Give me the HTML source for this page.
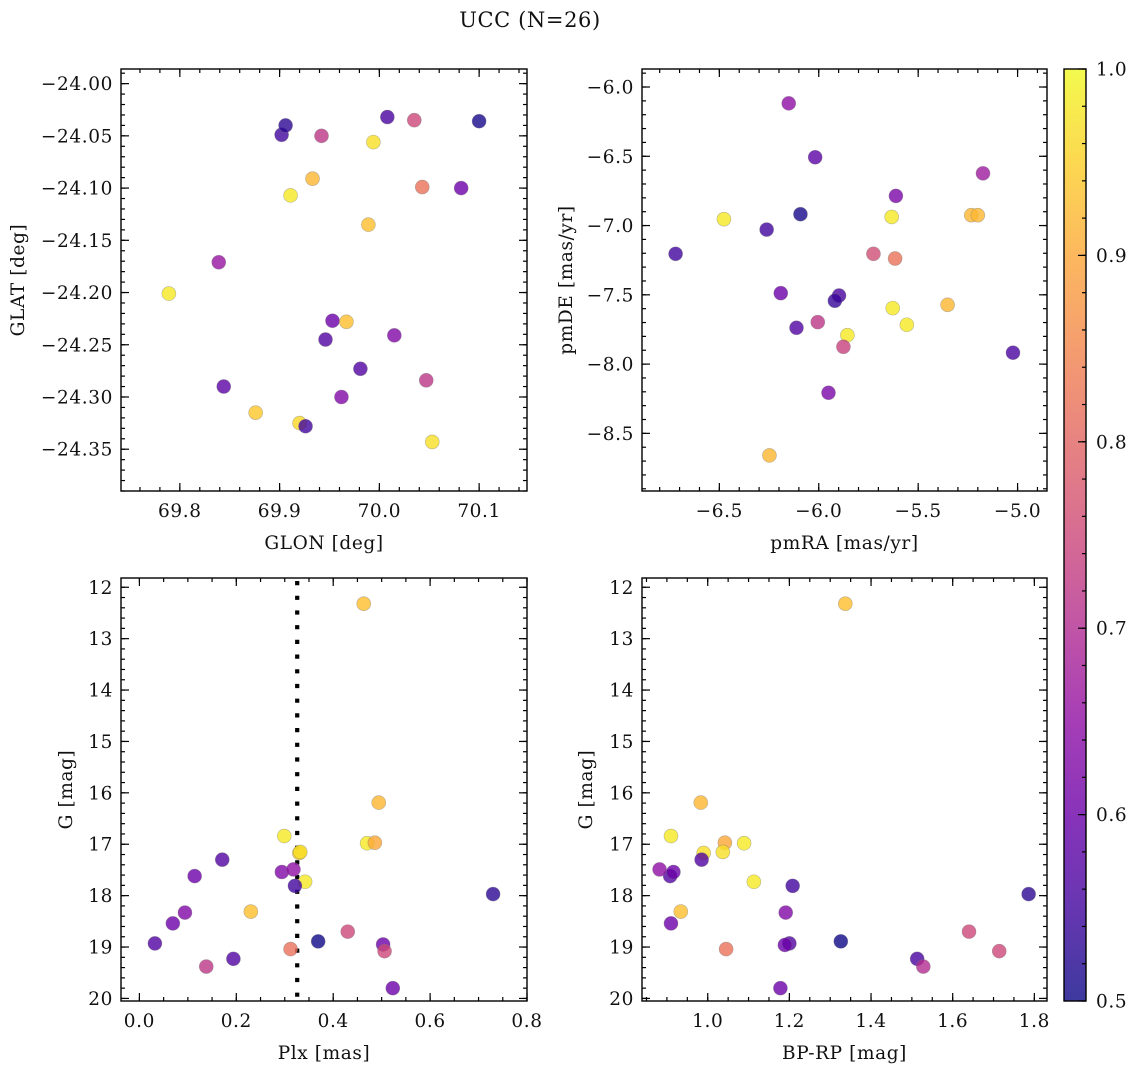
<!DOCTYPE html>
<html>
<head>
<meta charset="utf-8">
<style>
  html,body{margin:0;padding:0;background:#fff;}
  svg{display:block;font-family:"DejaVu Serif","Liberation Serif",serif;}
  svg text{letter-spacing:0.6px;}
</style>
</head>
<body>
<svg id="fig" width="1136" height="1068" viewBox="0 0 1136 1068" xmlns="http://www.w3.org/2000/svg">
  <rect width="1136" height="1068" fill="#fff"/>
  <text x="530" y="27" font-size="21" text-anchor="middle" fill="#111">UCC (N=26)</text>
</svg>
<script>
// ---- Panel 1: GLON vs GLAT ----
const glon = [69.902,69.906,69.942,70.008,70.035,70.100,69.994,69.933,70.043,70.082,69.911,69.989,69.839,69.789,69.953,69.967,69.946,70.015,69.981,69.844,70.047,69.962,69.876,69.920,69.926,70.053];
const glat = [-24.049,-24.040,-24.050,-24.032,-24.035,-24.036,-24.056,-24.091,-24.099,-24.100,-24.107,-24.135,-24.171,-24.201,-24.227,-24.228,-24.245,-24.241,-24.273,-24.290,-24.284,-24.300,-24.315,-24.325,-24.328,-24.343];
const prob1 = [0.55,0.53,0.72,0.56,0.75,0.51,0.97,0.92,0.82,0.60,0.98,0.93,0.66,0.98,0.60,0.93,0.57,0.63,0.57,0.58,0.72,0.63,0.94,0.96,0.55,0.97];
// ---- Panel 2: pmRA vs pmDE ----
const pmra = [-6.151,-6.018,-5.174,-5.612,-6.477,-6.092,-6.262,-5.633,-5.233,-5.200,-6.720,-5.725,-5.616,-6.191,-5.898,-5.919,-5.628,-5.352,-6.112,-5.557,-6.005,-5.856,-5.876,-5.023,-5.951,-6.248];
const pmde = [-6.118,-6.507,-6.623,-6.786,-6.954,-6.918,-7.029,-6.938,-6.925,-6.925,-7.204,-7.204,-7.238,-7.488,-7.505,-7.543,-7.596,-7.572,-7.738,-7.716,-7.697,-7.791,-7.875,-7.918,-8.207,-8.659];
const prob2 = [0.65,0.58,0.67,0.62,0.98,0.51,0.55,0.98,0.92,0.92,0.55,0.76,0.82,0.60,0.56,0.54,0.98,0.92,0.57,0.98,0.72,0.98,0.74,0.56,0.62,0.92];
// ---- Panel 3: Plx vs G ----
const plx = [0.463,0.494,0.299,0.470,0.486,0.330,0.332,0.171,0.114,0.294,0.318,0.342,0.321,0.730,0.230,0.094,0.069,0.032,0.194,0.138,0.312,0.369,0.430,0.503,0.506,0.523];
const gmag3 = [12.32,16.19,16.84,16.98,16.97,17.17,17.15,17.30,17.62,17.54,17.49,17.73,17.81,17.97,18.31,18.33,18.54,18.93,19.23,19.38,19.04,18.89,18.70,18.95,19.08,19.80];
const prob3 = [0.93,0.92,0.98,0.98,0.90,0.95,0.97,0.57,0.60,0.63,0.65,0.98,0.55,0.53,0.93,0.63,0.60,0.57,0.57,0.72,0.82,0.50,0.75,0.60,0.75,0.60];
const plxLine = [0.3257];
// ---- Panel 4: BP-RP vs G ----
const bprp = [1.337,0.983,0.910,1.042,1.089,0.990,1.037,0.985,0.908,0.882,0.916,1.113,1.208,1.786,0.934,1.191,0.910,1.200,1.513,1.528,1.045,1.326,1.640,1.189,1.714,1.178];
const gmag4 = [12.32,16.19,16.84,16.97,16.98,17.17,17.15,17.30,17.62,17.49,17.54,17.73,17.81,17.97,18.31,18.33,18.54,18.93,19.23,19.38,19.04,18.89,18.70,18.96,19.08,19.80];
const prob4 = [0.93,0.92,0.98,0.90,0.98,0.97,0.97,0.57,0.57,0.65,0.60,0.98,0.55,0.53,0.93,0.63,0.60,0.57,0.56,0.70,0.82,0.50,0.75,0.60,0.75,0.60];
// ---- tick labels ----
const ticks1x = [69.8,69.9,70.0,70.1];
const ticks1y = [-24.00,-24.05,-24.10,-24.15,-24.20,-24.25,-24.30,-24.35];
const ticks2x = [-6.5,-6.0,-5.5,-5.0];
const ticks2y = [-6.0,-6.5,-7.0,-7.5,-8.0,-8.5];
const ticks3x = [0.0,0.2,0.4,0.6,0.8];
const ticks4x = [1.0,1.2,1.4,1.6,1.8];
const ticksG = [12,13,14,15,16,17,18,19,20];
const ticksCb = [0.5,0.6,0.7,0.8,0.9,1.0];

const FS = 18.5;
const NS = "http://www.w3.org/2000/svg";
const svg = document.getElementById('fig');
function mk(tag, attrs, parent){
  const e = document.createElementNS(NS, tag);
  for (const k in attrs) e.setAttribute(k, attrs[k]);
  (parent||svg).appendChild(e);
  return e;
}
const stops = [[0,'#0d0887'],[0.1,'#41049d'],[0.2,'#6a00a8'],[0.3,'#8f0da4'],[0.4,'#b12a90'],[0.5,'#cc4778'],[0.6,'#e16462'],[0.7,'#f2844b'],[0.8,'#fca636'],[0.9,'#fcce25'],[1.0,'#f0f921']];
function hex(h){return [parseInt(h.slice(1,3),16),parseInt(h.slice(3,5),16),parseInt(h.slice(5,7),16)];}
function plasma(t){
  t=Math.max(0,Math.min(1,t));
  for(let i=0;i<stops.length-1;i++){
    if(t<=stops[i+1][0]){
      const f=(t-stops[i][0])/(stops[i+1][0]-stops[i][0]);
      const a=hex(stops[i][1]), b=hex(stops[i+1][1]);
      return 'rgb('+a.map((v,j)=>Math.round(v+(b[j]-v)*f)).join(',')+')';
    }
  }
  return stops[stops.length-1][1];
}
const cmin=0.5, cmax=1.0;
function fmt(v,d){ const s=Math.abs(v).toFixed(d); return (v<0?'\u2212':'')+s; }

function panel(cfg){
  const g = mk('g',{});
  
  
  const b = cfg.box;
  const sx = v => b.x + (v - cfg.xd[0])/(cfg.xd[1]-cfg.xd[0])*b.w;
  const sy = v => b.y + (cfg.yd[0] - v)/(cfg.yd[0]-cfg.yd[1])*b.h;
  const tg = mk('g',{stroke:'#000','stroke-width':1.2},g);
  function xt(v,len){ const x=sx(v); if(x<b.x-0.5||x>b.x+b.w+0.5) return;
    mk('line',{x1:x,x2:x,y1:b.y+b.h,y2:b.y+b.h-len},tg); mk('line',{x1:x,x2:x,y1:b.y,y2:b.y+len},tg);}
  function yt(v,len){ const y=sy(v); if(y<b.y-0.5||y>b.y+b.h+0.5) return;
    mk('line',{y1:y,y2:y,x1:b.x,x2:b.x+len},tg); mk('line',{y1:y,y2:y,x1:b.x+b.w,x2:b.x+b.w-len},tg);}
  const xlo=Math.min(...cfg.xd), xhi=Math.max(...cfg.xd);
  for(let k=Math.ceil(xlo/cfg.xm-1e-6);k*cfg.xm<=xhi+1e-9;k++) xt(k*cfg.xm,4);
  const ylo=Math.min(...cfg.yd), yhi=Math.max(...cfg.yd);
  for(let k=Math.ceil(ylo/cfg.ym-1e-6);k*cfg.ym<=yhi+1e-9;k++) yt(k*cfg.ym,4);
  cfg.xt.forEach(v=>{ xt(v,8);
    const t=mk('text',{x:sx(v),y:b.y+b.h+26,'font-size':FS,'text-anchor':'middle',fill:'#111'},g);
     
    t.textContent=fmt(v,cfg.xdp);});
  cfg.yt.forEach(v=>{ yt(v,8);
    const t=mk('text',{x:b.x-8,y:sy(v)+6.5,'font-size':FS,'text-anchor':'end',fill:'#111'},g);
     
    t.textContent=fmt(v,cfg.ydp);});
  const xl=mk('text',{x:b.x+b.w/2,y:b.y+b.h+58,'font-size':FS,'text-anchor':'middle',fill:'#111'},g);
   
  xl.textContent=cfg.xlab;
  const yx=cfg.ylx, yy=b.y+b.h/2;
  const yl=mk('text',{x:yx,y:yy,'font-size':FS,'text-anchor':'middle',fill:'#111',transform:'rotate(-90 '+yx+' '+yy+')'},g);
   
  yl.textContent=cfg.ylab;
  if(cfg.vline){ cfg.vline.forEach(v=>{
    const l=mk('line',{x1:sx(v),x2:sx(v),y1:b.y+3,y2:b.y+b.h,stroke:'#000','stroke-width':4.2,'stroke-dasharray':'4.2 10.5'},g);
     
  });}
  const pg=mk('g',{},g);
  for(let i=0;i<cfg.xs.length;i++){
    const c=mk('circle',{cx:sx(cfg.xs[i]),cy:sy(cfg.ys[i]),r:7,fill:plasma((cfg.cs[i]-cmin)/(cmax-cmin)),'fill-opacity':0.8,stroke:'#777','stroke-opacity':0.5,'stroke-width':0.6},pg);
    
    
  }
  const fr=mk('rect',{x:b.x,y:b.y,width:b.w,height:b.h,fill:'none',stroke:'#000','stroke-width':1.4},g);
   
}

panel({name:'glon-glat-panel',box:{x:121,y:69,w:406,h:422},xd:[69.741,70.148],yd:[-23.986,-24.390],
  xt:ticks1x,yt:ticks1y,xm:0.02,ym:0.01,xdp:1,ydp:2,xlab:'GLON [deg]',ylab:'GLAT [deg]',ylx:24,
  xs:glon,ys:glat,cs:prob1});
panel({name:'pm-panel',box:{x:642,y:69,w:405,h:422},xd:[-6.889,-4.852],yd:[-5.870,-8.916],
  xt:ticks2x,yt:ticks2y,xm:0.1,ym:0.1,xdp:1,ydp:1,xlab:'pmRA [mas/yr]',ylab:'pmDE [mas/yr]',ylx:572,
  xs:pmra,ys:pmde,cs:prob2});
panel({name:'plx-g-panel',box:{x:121,y:578,w:406,h:423},xd:[-0.038,0.80],yd:[11.82,20.05],
  xt:ticks3x,yt:ticksG,xm:0.05,ym:0.2,xdp:1,ydp:0,xlab:'Plx [mas]',ylab:'G [mag]',ylx:72,
  xs:plx,ys:gmag3,cs:prob3,vline:plxLine});
panel({name:'cmd-panel',box:{x:642,y:578,w:405,h:423},xd:[0.839,1.831],yd:[11.82,20.05],
  xt:ticks4x,yt:ticksG,xm:0.05,ym:0.2,xdp:1,ydp:0,xlab:'BP-RP [mag]',ylab:'G [mag]',ylx:592,
  xs:bprp,ys:gmag4,cs:prob4});

(function(){
  const cb={x:1064,y:69,w:22,h:932};
  const g=mk('g',{});
  
  
  const defs=mk('defs',{},g);
  const lg=mk('linearGradient',{id:'cbg',x1:0,y1:1,x2:0,y2:0},defs);
  for(let i=0;i<=20;i++){ mk('stop',{offset:(i/20),'stop-color':plasma(i/20),'stop-opacity':0.8},lg); }
  mk('rect',{x:cb.x,y:cb.y,width:cb.w,height:cb.h,fill:'url(#cbg)'},g);
  const sy=v=>cb.y+cb.h-(v-cmin)/(cmax-cmin)*cb.h;
  for(let k=25;k<=50;k++){ const v=k*0.02; const y=sy(v);
    mk('line',{x1:cb.x+cb.w,x2:cb.x+cb.w-4,y1:y,y2:y,stroke:'#000','stroke-width':1.2},g);}
  ticksCb.forEach(v=>{ const y=sy(v);
    mk('line',{x1:cb.x+cb.w,x2:cb.x+cb.w-8,y1:y,y2:y,stroke:'#000','stroke-width':1.2},g);
    const t=mk('text',{x:cb.x+cb.w+10,y:y+6.5,'font-size':FS,fill:'#111'},g);
     
    t.textContent=v.toFixed(1);});
  mk('rect',{x:cb.x,y:cb.y,width:cb.w,height:cb.h,fill:'none',stroke:'#000','stroke-width':1.4},g);
})();
</script>
</body>
</html>
